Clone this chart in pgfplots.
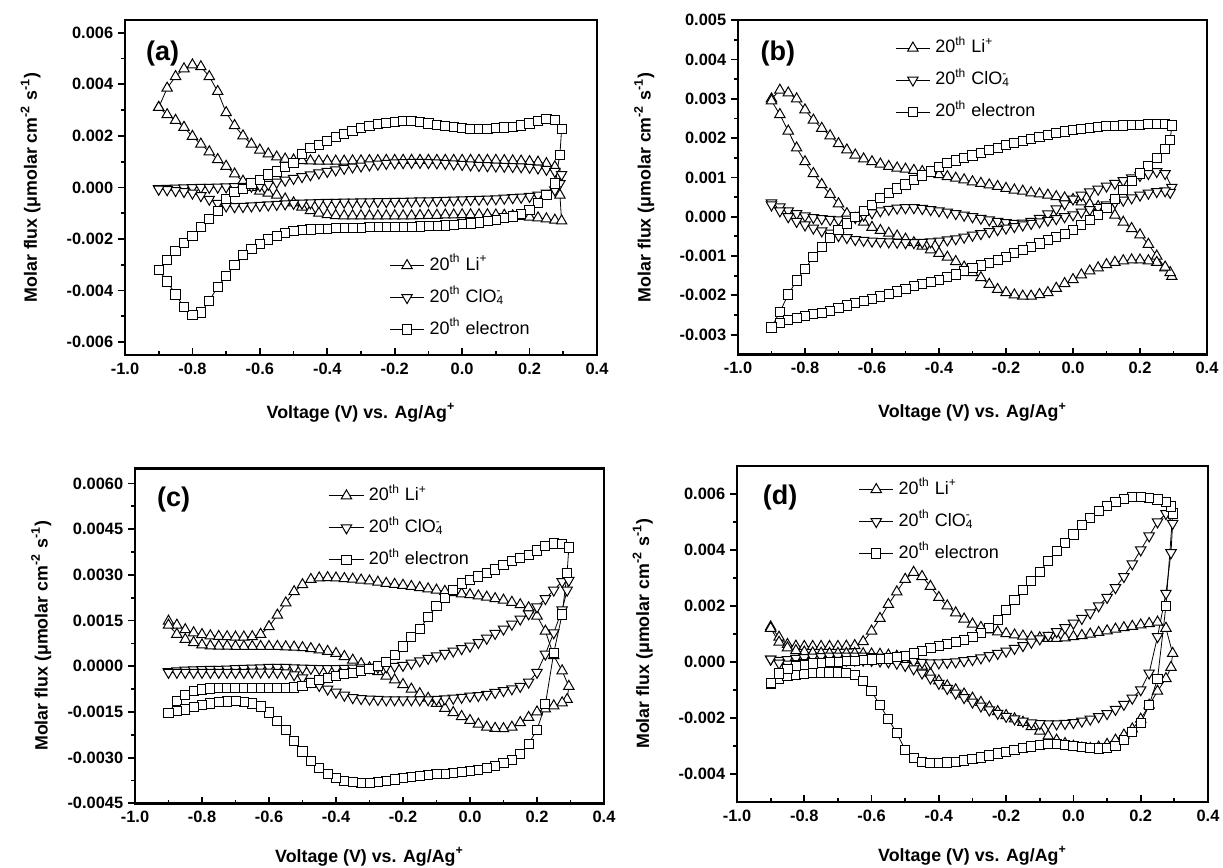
\documentclass[border=0pt]{standalone}
\usepackage{fontspec}
\setmainfont{Liberation Sans}
\usepackage{pgfplots}
\usepackage{pgfplotstable}
\pgfplotsset{compat=1.18}

% molar flux in units of 0.001 umolar cm^-2 s^-1; forward sweep, turn, backward sweep
\pgfplotstableread{
x li cl el
-0.900 3.10 -0.05 -3.20
-0.875 2.82 -0.04 -2.80
-0.850 2.60 -0.03 -2.47
-0.825 2.33 -0.02 -2.15
-0.800 1.98 -0.01 -1.88
-0.775 1.68 0.00 -1.55
-0.750 1.38 0.00 -1.22
-0.725 1.08 0.01 -0.90
-0.700 0.82 0.02 -0.45
-0.675 0.52 0.03 -0.17
-0.650 0.24 0.04 -0.05
-0.625 0.00 0.05 0.15
-0.600 -0.14 0.07 0.30
-0.575 -0.22 0.12 0.50
-0.550 -0.30 0.20 0.62
-0.525 -0.45 0.28 0.78
-0.500 -0.60 0.35 0.95
-0.475 -0.76 0.42 1.30
-0.450 -0.90 0.49 1.52
-0.425 -1.00 0.56 1.65
-0.400 -1.06 0.62 1.80
-0.375 -1.09 0.68 1.95
-0.350 -1.10 0.74 2.08
-0.325 -1.10 0.79 2.20
-0.300 -1.10 0.83 2.30
-0.275 -1.10 0.87 2.38
-0.250 -1.10 0.90 2.45
-0.225 -1.10 0.93 2.50
-0.200 -1.10 0.95 2.54
-0.175 -1.10 0.96 2.56
-0.150 -1.10 0.97 2.56
-0.125 -1.09 0.97 2.53
-0.100 -1.08 0.96 2.48
-0.075 -1.08 0.95 2.43
-0.050 -1.07 0.93 2.38
-0.025 -1.07 0.91 2.33
0.000 -1.06 0.89 2.30
0.025 -1.06 0.87 2.28
0.050 -1.06 0.85 2.27
0.075 -1.06 0.84 2.28
0.100 -1.07 0.83 2.30
0.125 -1.08 0.82 2.32
0.150 -1.10 0.81 2.35
0.175 -1.12 0.80 2.40
0.200 -1.15 0.78 2.48
0.225 -1.18 0.75 2.56
0.250 -1.22 0.70 2.64
0.275 -1.27 0.62 2.62
0.295 -1.30 0.50 2.25
0.290 -0.30 0.15 1.27
0.275 0.80 -0.10 0.15
0.250 0.92 -0.22 -0.28
0.225 0.98 -0.30 -0.62
0.200 1.00 -0.35 -0.88
0.175 1.02 -0.38 -1.03
0.150 1.03 -0.40 -1.13
0.125 1.04 -0.42 -1.20
0.100 1.05 -0.44 -1.26
0.075 1.05 -0.45 -1.31
0.050 1.05 -0.46 -1.36
0.025 1.05 -0.47 -1.40
0.000 1.05 -0.48 -1.43
-0.025 1.05 -0.49 -1.46
-0.050 1.05 -0.50 -1.48
-0.075 1.05 -0.51 -1.50
-0.100 1.05 -0.52 -1.51
-0.125 1.05 -0.52 -1.52
-0.150 1.05 -0.53 -1.53
-0.175 1.05 -0.54 -1.54
-0.200 1.05 -0.54 -1.54
-0.225 1.05 -0.55 -1.55
-0.250 1.04 -0.55 -1.55
-0.275 1.04 -0.56 -1.55
-0.300 1.03 -0.56 -1.56
-0.325 1.03 -0.57 -1.56
-0.350 1.02 -0.57 -1.57
-0.375 1.02 -0.58 -1.58
-0.400 1.02 -0.58 -1.60
-0.425 1.02 -0.59 -1.61
-0.450 1.03 -0.60 -1.63
-0.475 1.04 -0.61 -1.66
-0.500 1.06 -0.62 -1.70
-0.525 1.10 -0.64 -1.77
-0.550 1.18 -0.66 -1.88
-0.575 1.30 -0.68 -2.02
-0.600 1.45 -0.70 -2.20
-0.625 1.68 -0.72 -2.38
-0.650 2.00 -0.74 -2.62
-0.675 2.40 -0.75 -3.00
-0.700 2.90 -0.72 -3.45
-0.725 3.72 -0.62 -3.85
-0.750 4.30 -0.46 -4.40
-0.775 4.68 -0.32 -4.85
-0.800 4.75 -0.22 -4.95
-0.825 4.60 -0.16 -4.65
-0.850 4.30 -0.12 -4.15
-0.875 3.85 -0.09 -3.65
-0.900 3.10 -0.07 -3.20
}\fluxA

\pgfplotstableread{
x li cl el
-0.900 3.00 0.35 -2.82
-0.875 3.22 0.25 -2.42
-0.850 3.15 0.15 -1.98
-0.825 3.00 0.08 -1.62
-0.800 2.72 0.02 -1.32
-0.775 2.46 -0.02 -1.02
-0.750 2.25 -0.05 -0.76
-0.725 2.06 -0.07 -0.55
-0.700 1.86 -0.08 -0.34
-0.675 1.70 -0.06 -0.17
-0.650 1.57 -0.02 0.00
-0.625 1.47 0.04 0.15
-0.600 1.40 0.10 0.30
-0.575 1.34 0.15 0.47
-0.550 1.28 0.19 0.60
-0.525 1.24 0.22 0.72
-0.500 1.21 0.23 0.82
-0.475 1.18 0.23 0.94
-0.450 1.15 0.21 1.05
-0.425 1.11 0.18 1.15
-0.400 1.07 0.15 1.26
-0.375 1.02 0.12 1.36
-0.350 0.98 0.08 1.43
-0.325 0.94 0.04 1.50
-0.300 0.89 0.00 1.56
-0.275 0.85 -0.04 1.62
-0.250 0.81 -0.08 1.69
-0.225 0.77 -0.12 1.75
-0.200 0.72 -0.15 1.82
-0.175 0.68 -0.17 1.87
-0.150 0.65 -0.16 1.93
-0.125 0.61 -0.12 1.98
-0.100 0.58 -0.04 2.03
-0.075 0.55 0.07 2.08
-0.050 0.51 0.20 2.13
-0.025 0.48 0.33 2.17
0.000 0.44 0.45 2.20
0.025 0.38 0.55 2.23
0.050 0.32 0.63 2.26
0.075 0.26 0.70 2.28
0.100 0.20 0.78 2.30
0.125 0.04 0.85 2.31
0.150 -0.14 0.92 2.32
0.175 -0.30 0.99 2.33
0.200 -0.46 1.05 2.34
0.225 -0.70 1.10 2.35
0.250 -1.00 1.15 2.36
0.275 -1.30 1.10 2.36
0.295 -1.52 0.75 2.32
0.290 -1.42 0.62 1.95
0.275 -1.28 0.66 1.72
0.250 -1.16 0.64 1.50
0.225 -1.12 0.60 1.30
0.200 -1.10 0.55 1.10
0.175 -1.10 0.48 0.90
0.150 -1.12 0.42 0.68
0.125 -1.16 0.36 0.45
0.100 -1.22 0.30 0.22
0.075 -1.30 0.24 0.05
0.050 -1.38 0.18 -0.08
0.025 -1.48 0.12 -0.21
0.000 -1.60 0.05 -0.34
-0.025 -1.70 0.00 -0.43
-0.050 -1.82 -0.05 -0.51
-0.075 -1.93 -0.09 -0.60
-0.100 -1.98 -0.13 -0.68
-0.125 -2.02 -0.17 -0.77
-0.150 -2.02 -0.21 -0.85
-0.175 -1.99 -0.25 -0.93
-0.200 -1.93 -0.29 -1.02
-0.225 -1.85 -0.33 -1.10
-0.250 -1.72 -0.38 -1.17
-0.275 -1.55 -0.43 -1.24
-0.300 -1.42 -0.47 -1.31
-0.325 -1.28 -0.52 -1.39
-0.350 -1.14 -0.56 -1.47
-0.375 -1.03 -0.59 -1.54
-0.400 -0.93 -0.62 -1.60
-0.425 -0.84 -0.64 -1.66
-0.450 -0.75 -0.65 -1.71
-0.475 -0.66 -0.66 -1.76
-0.500 -0.57 -0.66 -1.83
-0.525 -0.49 -0.65 -1.90
-0.550 -0.42 -0.64 -1.97
-0.575 -0.35 -0.63 -2.03
-0.600 -0.27 -0.62 -2.09
-0.625 -0.14 -0.60 -2.14
-0.650 -0.04 -0.58 -2.20
-0.675 0.08 -0.53 -2.26
-0.700 0.33 -0.48 -2.33
-0.725 0.57 -0.42 -2.39
-0.750 0.82 -0.36 -2.44
-0.775 1.10 -0.29 -2.48
-0.800 1.40 -0.21 -2.52
-0.825 1.75 -0.12 -2.57
-0.850 2.18 0.00 -2.63
-0.875 2.60 0.15 -2.70
-0.900 2.95 0.30 -2.82
}\fluxB

\pgfplotstableread{
x li cl el
-0.900 1.48 -0.18 -1.53
-0.875 1.35 -0.15 -1.15
-0.850 1.20 -0.13 -0.95
-0.825 1.10 -0.12 -0.82
-0.800 1.04 -0.11 -0.76
-0.775 1.00 -0.10 -0.73
-0.750 0.98 -0.10 -0.72
-0.725 0.97 -0.09 -0.72
-0.700 0.96 -0.08 -0.72
-0.675 0.96 -0.07 -0.72
-0.650 0.97 -0.06 -0.72
-0.625 1.05 -0.05 -0.72
-0.600 1.30 -0.04 -0.72
-0.575 1.68 -0.04 -0.72
-0.550 2.08 -0.04 -0.71
-0.525 2.45 -0.05 -0.70
-0.500 2.68 -0.06 -0.65
-0.475 2.85 -0.07 -0.55
-0.450 2.90 -0.08 -0.46
-0.425 2.91 -0.08 -0.38
-0.400 2.90 -0.08 -0.31
-0.375 2.88 -0.07 -0.26
-0.350 2.86 -0.06 -0.21
-0.325 2.83 -0.05 -0.16
-0.300 2.80 -0.04 -0.09
-0.275 2.76 -0.03 0.02
-0.250 2.72 -0.02 0.15
-0.225 2.69 0.00 0.36
-0.200 2.66 0.03 0.65
-0.175 2.62 0.10 0.95
-0.150 2.58 0.18 1.22
-0.125 2.54 0.26 1.62
-0.100 2.50 0.34 1.97
-0.075 2.46 0.42 2.25
-0.050 2.42 0.50 2.50
-0.025 2.38 0.58 2.72
0.000 2.35 0.66 2.83
0.025 2.31 0.78 2.95
0.050 2.27 0.92 3.07
0.075 2.22 1.08 3.18
0.100 2.17 1.22 3.32
0.125 2.10 1.38 3.45
0.150 2.02 1.55 3.56
0.175 1.92 1.72 3.66
0.200 1.65 1.95 3.80
0.225 1.15 2.22 3.94
0.250 0.35 2.50 4.03
0.275 -0.15 2.78 4.02
0.295 -0.66 2.82 3.90
0.290 -1.09 2.50 3.07
0.275 -1.20 1.85 1.70
0.250 -1.30 1.10 0.44
0.225 -1.40 0.40 -1.25
0.200 -1.50 -0.20 -2.08
0.175 -1.68 -0.52 -2.55
0.150 -1.85 -0.66 -2.88
0.125 -2.00 -0.74 -3.07
0.100 -2.05 -0.80 -3.18
0.075 -2.04 -0.86 -3.28
0.050 -2.00 -0.92 -3.35
0.025 -1.90 -0.96 -3.41
0.000 -1.78 -0.98 -3.45
-0.025 -1.65 -1.02 -3.48
-0.050 -1.52 -1.05 -3.50
-0.075 -1.38 -1.07 -3.53
-0.100 -1.22 -1.09 -3.55
-0.125 -1.05 -1.10 -3.58
-0.150 -0.90 -1.10 -3.60
-0.175 -0.75 -1.10 -3.63
-0.200 -0.60 -1.10 -3.67
-0.225 -0.45 -1.10 -3.72
-0.250 -0.32 -1.10 -3.77
-0.275 -0.18 -1.09 -3.81
-0.300 -0.05 -1.08 -3.84
-0.325 0.08 -1.06 -3.84
-0.350 0.20 -1.03 -3.81
-0.375 0.32 -0.95 -3.76
-0.400 0.42 -0.85 -3.68
-0.425 0.49 -0.75 -3.55
-0.450 0.54 -0.63 -3.35
-0.475 0.58 -0.50 -3.10
-0.500 0.61 -0.38 -2.80
-0.525 0.63 -0.28 -2.45
-0.550 0.64 -0.22 -2.10
-0.575 0.65 -0.20 -1.80
-0.600 0.65 -0.19 -1.52
-0.625 0.65 -0.19 -1.32
-0.650 0.65 -0.19 -1.22
-0.675 0.65 -0.20 -1.17
-0.700 0.65 -0.20 -1.15
-0.725 0.66 -0.20 -1.16
-0.750 0.66 -0.20 -1.18
-0.775 0.67 -0.20 -1.22
-0.800 0.70 -0.20 -1.28
-0.825 0.78 -0.20 -1.35
-0.850 0.88 -0.20 -1.42
-0.875 1.05 -0.20 -1.48
-0.900 1.35 -0.20 -1.53
}\fluxC

\pgfplotstableread{
x li cl el
-0.900 1.25 0.10 -0.80
-0.875 0.88 0.05 -0.62
-0.850 0.62 0.08 -0.52
-0.825 0.56 0.12 -0.46
-0.800 0.55 0.15 -0.42
-0.775 0.55 0.17 -0.40
-0.750 0.55 0.19 -0.38
-0.725 0.55 0.20 -0.38
-0.700 0.55 0.20 -0.38
-0.675 0.56 0.20 -0.40
-0.650 0.58 0.20 -0.48
-0.625 0.72 0.20 -0.68
-0.600 1.10 0.19 -1.05
-0.575 1.55 0.17 -1.55
-0.550 2.05 0.14 -2.05
-0.525 2.50 0.10 -2.55
-0.500 2.95 0.06 -3.15
-0.475 3.20 0.02 -3.45
-0.450 3.05 -0.02 -3.58
-0.425 2.70 -0.04 -3.62
-0.400 2.30 -0.04 -3.62
-0.375 2.00 -0.02 -3.60
-0.350 1.75 0.00 -3.57
-0.325 1.53 0.04 -3.53
-0.300 1.35 0.08 -3.48
-0.275 1.23 0.14 -3.42
-0.250 1.14 0.22 -3.35
-0.225 1.07 0.30 -3.28
-0.200 1.01 0.38 -3.22
-0.175 0.96 0.48 -3.15
-0.150 0.92 0.58 -3.08
-0.125 0.88 0.70 -3.03
-0.100 0.86 0.82 -2.98
-0.075 0.84 0.95 -2.95
-0.050 0.84 1.08 -2.94
-0.025 0.86 1.22 -2.96
0.000 0.90 1.38 -3.00
0.025 0.94 1.55 -3.05
0.050 0.99 1.75 -3.09
0.075 1.05 2.00 -3.10
0.100 1.11 2.30 -3.08
0.125 1.17 2.65 -3.00
0.150 1.22 3.05 -2.80
0.175 1.27 3.50 -2.50
0.200 1.32 4.00 -2.20
0.225 1.37 4.50 -1.55
0.250 1.42 5.00 -0.60
0.275 1.20 5.30 2.00
0.295 0.30 4.95 5.30
0.290 -0.20 3.90 5.55
0.275 -0.60 2.45 5.70
0.250 -1.05 0.90 5.80
0.225 -1.55 -0.40 5.87
0.200 -2.05 -1.00 5.90
0.175 -2.40 -1.30 5.88
0.150 -2.62 -1.52 5.82
0.125 -2.80 -1.70 5.72
0.100 -2.95 -1.85 5.58
0.075 -3.05 -1.96 5.40
0.050 -3.10 -2.05 5.15
0.025 -3.08 -2.12 4.88
0.000 -3.02 -2.17 4.55
-0.025 -2.92 -2.20 4.25
-0.050 -2.80 -2.22 3.95
-0.075 -2.65 -2.22 3.60
-0.100 -2.48 -2.21 3.22
-0.125 -2.32 -2.18 2.90
-0.150 -2.16 -2.12 2.58
-0.175 -2.04 -2.04 2.22
-0.200 -1.92 -1.95 1.85
-0.225 -1.78 -1.84 1.50
-0.250 -1.62 -1.72 1.22
-0.275 -1.45 -1.58 1.02
-0.300 -1.30 -1.44 0.88
-0.325 -1.15 -1.28 0.78
-0.350 -1.00 -1.12 0.70
-0.375 -0.86 -0.95 0.64
-0.400 -0.68 -0.77 0.58
-0.425 -0.42 -0.58 0.50
-0.450 -0.15 -0.40 0.40
-0.475 0.05 -0.25 0.30
-0.500 0.15 -0.13 0.22
-0.525 0.20 -0.05 0.16
-0.550 0.24 0.00 0.12
-0.575 0.27 0.03 0.10
-0.600 0.28 0.05 0.08
-0.625 0.29 0.06 0.06
-0.650 0.30 0.06 0.04
-0.675 0.30 0.06 0.02
-0.700 0.30 0.05 0.00
-0.725 0.30 0.04 -0.02
-0.750 0.31 0.02 -0.04
-0.775 0.32 0.00 -0.06
-0.800 0.35 -0.03 -0.10
-0.825 0.40 -0.06 -0.15
-0.850 0.50 -0.08 -0.25
-0.875 0.70 -0.05 -0.42
-0.900 1.20 0.10 -0.75
}\fluxD

\pgfplotsset{
  panel/.style={
    scale only axis, anchor=south west,
    xmin=-1, xmax=0.4,
    xtick={-1,-0.8,-0.6,-0.4,-0.2,0,0.2,0.4},
    xticklabels={-1.0,-0.8,-0.6,-0.4,-0.2,0.0,0.2,0.4},
    minor x tick num=1, minor y tick num=1,
    tick pos=left, tick align=outside,
    major tick length=3.4pt, minor tick length=1.8pt,
    every tick/.style={black, line width=0.9pt},
    every major x tick/.append style={yshift=3.4pt},
    every minor x tick/.append style={yshift=1.8pt},
    axis line style={line width=1.2pt},
    ticklabel style={font=\fontsize{8.2}{9.5}\selectfont\bfseries},
    xticklabel style={yshift=3pt},
    yticklabel style={xshift=1pt},
    label style={font=\fontsize{8.9}{10}\selectfont\bfseries},
    xlabel={Voltage (V) vs. Ag/Ag\textsuperscript{+}},
    ylabel={Molar flux (μmolar cm\textsuperscript{-2} s\textsuperscript{-1})},
    ylabel style={at={(axis description cs:-0.2,0.5)}, anchor=center},
    legend cell align=left,
    legend style={draw=none, fill=none, anchor=north west,
      font=\fontsize{9}{10.5}\selectfont, row sep=7.6pt, column sep=2.5pt,
      nodes={inner sep=0pt, text height=6.6pt, text depth=1.8pt}},
  },
  flux/.style={black, line width=0.4pt},
}
\newcommand{\panellabel}[2]{\node[anchor=west, font=\fontsize{13.5}{15}\selectfont\bfseries] at (rel axis cs:#1) {#2};}

\begin{document}
\begin{tikzpicture}
\useasboundingbox (0,0) rectangle (611.5pt,-434pt);

% (a)
\begin{axis}[panel, at={(62.5pt,-177.5pt)}, width=236pt, height=167.6pt,
  ymin=-6.5, ymax=6.5, ytick={-6,-4,-2,0,2,4,6},
  yticklabels={-0.006,-0.004,-0.002,0.000,0.002,0.004,0.006},
  xlabel style={at={(axis description cs:0.5,-0.173)}, anchor=center},
  legend style={at={(axis description cs:0.547,0.305)}}]
\addplot[flux, mark=triangle*, mark size=3pt, mark options={fill=white, solid, line width=0.5pt}] table[x=x, y=li] {\fluxA};
\addlegendentry{20\textsuperscript{th} Li\textsuperscript{+}}
\addplot[flux, mark=triangle*, mark size=3pt, mark options={fill=white, solid, line width=0.5pt, rotate=180}] table[x=x, y=cl] {\fluxA};
\addlegendentry{20\textsuperscript{th} ClO\rlap{\textsuperscript{-}}\textsubscript{4}}
\addplot[flux, mark=square*, mark size=2.3pt, mark options={fill=white, solid, line width=0.5pt}] table[x=x, y=el] {\fluxA};
\addlegendentry{20\textsuperscript{th} electron}
\panellabel{0.03,0.9}{(a)}
\end{axis}

% (b)
\begin{axis}[panel, at={(369pt,-177.15pt)}, width=234.5pt, height=167.05pt,
  ymin=-3.5, ymax=5, ytick={-3,-2,-1,0,1,2,3,4,5},
  yticklabels={-0.003,-0.002,-0.001,0.000,0.001,0.002,0.003,0.004,0.005},
  xlabel style={at={(axis description cs:0.5,-0.173)}, anchor=center},
  legend style={at={(axis description cs:0.322,0.955)}}]
\addplot[flux, mark=triangle*, mark size=3pt, mark options={fill=white, solid, line width=0.5pt}] table[x=x, y=li] {\fluxB};
\addlegendentry{20\textsuperscript{th} Li\textsuperscript{+}}
\addplot[flux, mark=triangle*, mark size=3pt, mark options={fill=white, solid, line width=0.5pt, rotate=180}] table[x=x, y=cl] {\fluxB};
\addlegendentry{20\textsuperscript{th} ClO\rlap{\textsuperscript{-}}\textsubscript{4}}
\addplot[flux, mark=square*, mark size=2.3pt, mark options={fill=white, solid, line width=0.5pt}] table[x=x, y=el] {\fluxB};
\addlegendentry{20\textsuperscript{th} electron}
\panellabel{0.033,0.9}{(b)}
\end{axis}

% (c)
\begin{axis}[panel, at={(67.5pt,-401.65pt)}, width=234.5pt, height=167.5pt,
  ymin=-4.5, ymax=6.5, ytick={-4.5,-3,-1.5,0,1.5,3,4.5,6},
  yticklabels={-0.0045,-0.0030,-0.0015,0.0000,0.0015,0.0030,0.0045,0.0060},
  xlabel style={at={(axis description cs:0.5,-0.16)}, anchor=center},
  legend style={at={(axis description cs:0.4,0.956)}}]
\addplot[flux, mark=triangle*, mark size=3pt, mark options={fill=white, solid, line width=0.5pt}] table[x=x, y=li] {\fluxC};
\addlegendentry{20\textsuperscript{th} Li\textsuperscript{+}}
\addplot[flux, mark=triangle*, mark size=3pt, mark options={fill=white, solid, line width=0.5pt, rotate=180}] table[x=x, y=cl] {\fluxC};
\addlegendentry{20\textsuperscript{th} ClO\rlap{\textsuperscript{-}}\textsubscript{4}}
\addplot[flux, mark=square*, mark size=2.3pt, mark options={fill=white, solid, line width=0.5pt}] table[x=x, y=el] {\fluxC};
\addlegendentry{20\textsuperscript{th} electron}
\panellabel{0.032,0.908}{(c)}
\end{axis}

% (d)
\begin{axis}[panel, at={(368.5pt,-400.85pt)}, width=235.5pt, height=167.85pt,
  ymin=-5, ymax=7, ytick={-4,-2,0,2,4,6},
  yticklabels={-0.004,-0.002,0.000,0.002,0.004,0.006},
  xlabel style={at={(axis description cs:0.5,-0.16)}, anchor=center},
  legend style={at={(axis description cs:0.245,0.968)}}]
\addplot[flux, mark=triangle*, mark size=3pt, mark options={fill=white, solid, line width=0.5pt}] table[x=x, y=li] {\fluxD};
\addlegendentry{20\textsuperscript{th} Li\textsuperscript{+}}
\addplot[flux, mark=triangle*, mark size=3pt, mark options={fill=white, solid, line width=0.5pt, rotate=180}] table[x=x, y=cl] {\fluxD};
\addlegendentry{20\textsuperscript{th} ClO\rlap{\textsuperscript{-}}\textsubscript{4}}
\addplot[flux, mark=square*, mark size=2.3pt, mark options={fill=white, solid, line width=0.5pt}] table[x=x, y=el] {\fluxD};
\addlegendentry{20\textsuperscript{th} electron}
\panellabel{0.04,0.905}{(d)}
\end{axis}
\end{tikzpicture}
\end{document}
